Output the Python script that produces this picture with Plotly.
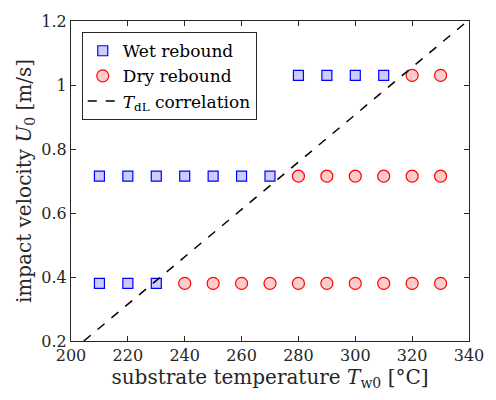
import plotly.graph_objects as go

wet_T = [210, 220, 230, 210, 220, 230, 240, 250, 260, 270, 280, 290, 300, 310]
wet_U = [0.38, 0.38, 0.38, 0.715, 0.715, 0.715, 0.715, 0.715, 0.715, 0.715, 1.03, 1.03, 1.03, 1.03]
dry_T = [240, 250, 260, 270, 280, 290, 300, 310, 320, 330,
         280, 290, 300, 310, 320, 330, 320, 330]
dry_U = [0.38] * 10 + [0.715] * 6 + [1.03] * 2
corr_T = [204.5, 339.5]
corr_U = [0.2, 1.2]

FONT = "DejaVu Serif, Liberation Serif, serif"
AX = "#262626"

fig = go.Figure()
fig.add_trace(go.Scatter(x=wet_T, y=wet_U, mode="markers", name="Wet rebound",
                         marker=dict(symbol="square", size=10, color="#ccccff",
                                     line=dict(color="#0000ff", width=1.2))))
fig.add_trace(go.Scatter(x=dry_T, y=dry_U, mode="markers", name="Dry rebound",
                         marker=dict(symbol="circle", size=12, color="#ffcccc",
                                     line=dict(color="#ff0000", width=1.2))))
fig.add_trace(go.Scatter(x=corr_T, y=corr_U, mode="lines",
                         name="<i>T</i><sub>dL</sub> correlation",
                         line=dict(color="black", width=1.5, dash="dash")))

axis_common = dict(showline=True, linecolor=AX, linewidth=1.2, mirror="ticks",
                   ticks="inside", ticklen=5, tickcolor=AX, showgrid=False,
                   zeroline=False, tickfont=dict(family=FONT, size=16, color="#262626"))
fig.update_layout(
    width=496, height=400,
    margin=dict(l=71, r=16, t=15, b=59),
    plot_bgcolor="white", paper_bgcolor="white",
    font=dict(family=FONT, size=16, color="#262626"),
    xaxis=dict(range=[200, 340], dtick=20,
               title=dict(text="substrate temperature <i>T</i><sub>w0</sub> [°C]",
                          font=dict(family=FONT, size=20), standoff=3),
               **axis_common),
    yaxis=dict(range=[0.2, 1.2], dtick=0.2, tickformat="~g",
               title=dict(text="impact velocity <i>U</i><sub>0</sub> [m/s]",
                          font=dict(family=FONT, size=20), standoff=4),
               **axis_common),
    legend=dict(x=0.027, y=0.965, xanchor="left", yanchor="top",
                bgcolor="white", bordercolor=AX, borderwidth=1,
                font=dict(family=FONT, size=17, color="black"),
                tracegroupgap=0, itemwidth=30),
    showlegend=True,
)
fig.write_html("out.html")
